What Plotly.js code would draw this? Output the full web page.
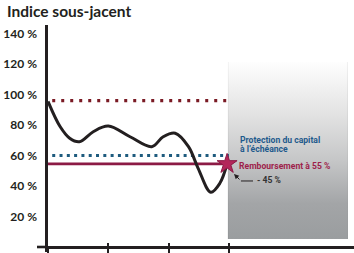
<!DOCTYPE html>
<html>
<head>
<meta charset="utf-8">
<script src="https://cdn.plot.ly/plotly-3.0.1.min.js"></script>
<style>html,body{margin:0;padding:0;background:#fff;}#chart{width:354px;height:253px;}</style>
</head>
<body>
<div id="chart"></div>
<script>
// ---- data ----
const curveX = [0, 0.2, 0.36, 0.52, 0.75, 1.0, 1.36, 1.72, 1.91, 2.11, 2.33, 2.49, 2.70, 2.85, 2.97];
const curveY = [95.5, 79, 71.3, 69, 75.6, 79.3, 72.3, 65.8, 72.3, 74.6, 65.8, 51.6, 35.9, 41.8, 54.5];
const capLevel = 96;          // red dotted line
const protectionLevel = 60;   // blue dotted line
const redemptionLevel = 54.5; // red solid line (55 %)
const levelStartX = [0.07, 0];
const levelEndX = 3;
const yTickVals = [20, 40, 60, 80, 100, 120, 140];
const yTickText = ['20 %', '40 %', '60 %', '80 %', '100 %', '120 %', '140 %'];
const xTickVals = [0, 1, 2, 3];
const zoneX = [2.98, 4.975];
const zoneY = [5.2, 121.3];
const labels = ['Protection du capital', 'à l\u2019échéance', 'Remboursement à 55 %', '- 45 %'];

const dark = '#231f20';
const blue = '#1f5a8c';
const crimson = '#9e1f4b';
const wine = '#7a1a24';
const narrow = 'Roboto, sans-serif';

const svg = "<svg xmlns='http://www.w3.org/2000/svg' viewBox='0 0 100 100' preserveAspectRatio='none'>" +
  "<defs><linearGradient id='g' x1='0' y1='0' x2='0' y2='1'>" +
  "<stop offset='0' stop-color='#fefefe'/><stop offset='0.3' stop-color='#e2e2e2'/>" +
  "<stop offset='0.55' stop-color='#c6c7c8'/><stop offset='0.8' stop-color='#a3a5a7'/>" +
  "<stop offset='1' stop-color='#9a9d9f'/></linearGradient></defs>" +
  "<rect width='100' height='100' fill='url(#g)'/>" +
  "<rect x='0' width='0.8' height='100' fill='#000' fill-opacity='0.06'/>" +
  "<rect x='99.2' width='0.8' height='100' fill='#000' fill-opacity='0.06'/></svg>";
const svgURI = 'data:image/svg+xml;charset=utf-8,' + encodeURIComponent(svg);

const traces = [
  {x: [levelStartX[0], levelEndX], y: [capLevel, capLevel], mode: 'lines',
   line: {color: wine, width: 3.2, dash: '3px,6px'}, hoverinfo: 'skip', xaxis: 'x'},
  {x: [levelStartX[0], levelEndX], y: [protectionLevel, protectionLevel], mode: 'lines',
   line: {color: '#1e5b7e', width: 3, dash: '3px,4.3px'}, hoverinfo: 'skip'},
  {x: [levelStartX[1], levelEndX], y: [redemptionLevel, redemptionLevel], mode: 'lines',
   line: {color: '#8c1a45', width: 2.6}, hoverinfo: 'skip'},
  {x: curveX, y: curveY, mode: 'lines', line: {color: dark, width: 3, shape: 'spline', smoothing: 1}, hoverinfo: 'skip'},
  {x: [curveX[curveX.length - 1]], y: [redemptionLevel], mode: 'markers',
   marker: {symbol: 'star', size: 15, color: '#b3275a', line: {color: '#8c1a45', width: 1}}, hoverinfo: 'skip'},
  {x: [0], y: [0], mode: 'markers', marker: {opacity: 0}, xaxis: 'x2', hoverinfo: 'skip'}
];

const layout = {
  width: 354, height: 253,
  margin: {l: 48, r: 0, t: 25, b: 1},
  paper_bgcolor: '#fff', plot_bgcolor: 'rgba(0,0,0,0)',
  showlegend: false,
  title: {text: 'Indice sous-jacent', x: 7 / 354, xanchor: 'left', xref: 'container',
          y: 1 - 12 / 253, yanchor: 'middle', yref: 'container',
          font: {family: 'Lato, sans-serif', size: 15.5, color: dark, weight: 'bold'}},
  xaxis: {range: [0, 5.075], anchor: 'free', position: 5 / 227, showline: true, linecolor: dark, linewidth: 2.6,
          showgrid: false, zeroline: false, tickvals: xTickVals, ticks: 'outside', ticklen: 4, tickwidth: 2,
          tickcolor: dark, showticklabels: false, fixedrange: true},
  xaxis2: {matches: 'x', overlaying: 'x', anchor: 'free', position: 5 / 227, showline: false, showgrid: false,
           zeroline: false, tickvals: xTickVals, ticks: 'inside', ticklen: 4, tickwidth: 2, tickcolor: dark,
           showticklabels: false},
  yaxis: {range: [-3.28, 145.6], showline: true, linecolor: dark, linewidth: 2.6, showgrid: false, zeroline: false,
          tickvals: yTickVals, ticktext: yTickText, ticks: 'outside', ticklen: 6, tickcolor: 'rgba(0,0,0,0)',
          tickfont: {family: 'Lato, sans-serif', size: 12, color: dark, weight: 'bold'}, fixedrange: true},
  images: [{source: svgURI, xref: 'x', yref: 'y', x: zoneX[0], y: zoneY[1], sizex: zoneX[1] - zoneX[0],
            sizey: zoneY[1] - zoneY[0], sizing: 'stretch', layer: 'below', xanchor: 'left', yanchor: 'top'}],
  shapes: [
    {type: 'line', xref: 'paper', yref: 'y', x0: -11 / 306, x1: 0, y0: 0, y1: 0, line: {color: dark, width: 2.6}},
    {type: 'line', xref: 'x', yref: 'y', x0: 3.2, x1: 3.4, y0: 43.3, y1: 43.3, line: {color: dark, width: 1}}
  ],
  annotations: [
    {x: 3.15, y: 70.2, xanchor: 'left', yanchor: 'middle', text: labels[0], showarrow: false,
     font: {family: narrow, size: 8.6, color: blue, weight: 'bold'}},
    {x: 3.15, y: 64.4, xanchor: 'left', yanchor: 'middle', text: labels[1], showarrow: false,
     font: {family: narrow, size: 8.6, color: blue, weight: 'bold'}},
    {x: 3.13, y: 53.3, xanchor: 'left', yanchor: 'middle', text: labels[2], showarrow: false,
     font: {family: narrow, size: 8.6, color: crimson, weight: 'bold'}},
    {x: 3.43, y: 43.9, xanchor: 'left', yanchor: 'middle', text: labels[3], showarrow: false,
     font: {family: narrow, size: 8.6, color: '#333', weight: 'bold'}},
    {x: 3.085, y: 47.9, ax: 3.2, ay: 43.3, axref: 'x', ayref: 'y', text: '', showarrow: true,
     arrowhead: 2, arrowsize: 1, arrowwidth: 1, arrowcolor: dark}
  ]
};

Plotly.newPlot('chart', traces, layout, {staticPlot: true, displayModeBar: false});
</script>
</body>
</html>
